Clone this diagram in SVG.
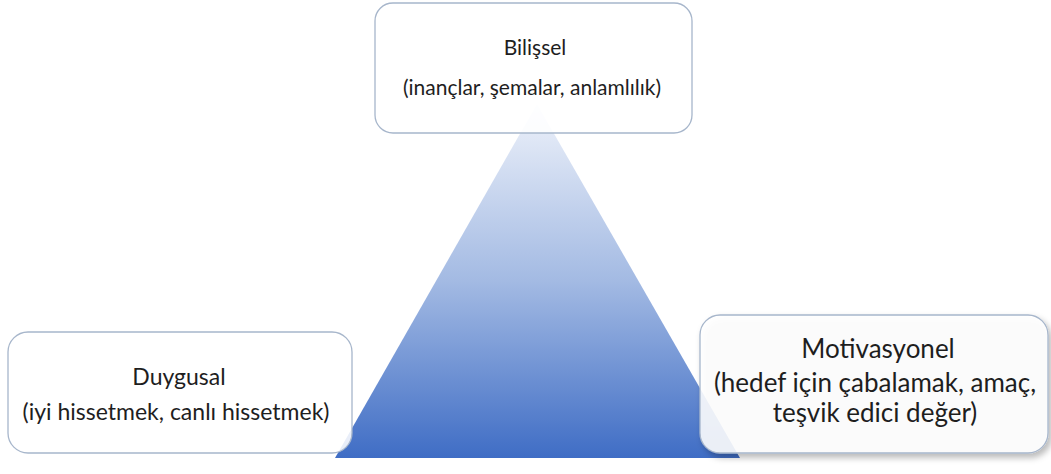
<svg xmlns="http://www.w3.org/2000/svg" width="1051" height="474" viewBox="0 0 1051 474">
<defs>
<linearGradient id="tri" x1="0" y1="0" x2="0" y2="1">
<stop offset="0" stop-color="#eef2fa"/>
<stop offset="0.5" stop-color="#a3bae3"/>
<stop offset="1" stop-color="#3f6dc5"/>
</linearGradient>
<filter id="sh" x="-10%" y="-10%" width="125%" height="130%">
<feDropShadow dx="3" dy="4" stdDeviation="3" flood-color="#000" flood-opacity="0.3"/>
</filter>
<style>
.box{fill:#ffffff;fill-opacity:0.88;stroke:#a7b6cb;stroke-width:1.3}
.t{font-family:Lato,"Liberation Sans",sans-serif;fill:#1e1e1e;text-anchor:middle}
.s1{font-size:21px}
.s2{font-size:23px}
.s3{font-size:26px}
</style>
</defs>
<rect width="1051" height="474" fill="#ffffff"/>
<polygon id="triangle" points="537,104 335,458 740,458" fill="url(#tri)"/>
<g id="bilissel">
<rect class="box" x="375" y="3" width="317" height="130" rx="18"/>
<text class="t s1" x="535" y="55">Bilişsel</text>
<text class="t s1" x="532" y="95">(inançlar, şemalar, anlamlılık)</text>
</g>
<g id="duygusal">
<rect class="box" x="8" y="332" width="344" height="121" rx="20"/>
<text class="t s2" x="179" y="385">Duygusal</text>
<text class="t s2" x="176" y="420">(iyi hissetmek, canlı hissetmek)</text>
</g>
<g id="motivasyonel">
<rect class="box" x="700" y="315" width="348" height="138" rx="20" filter="url(#sh)"/>
<text class="t s3" x="878" y="358">Motivasyonel</text>
<text class="t s3" x="875" y="392">(hedef için çabalamak, amaç,</text>
<text class="t s3" x="875" y="422">teşvik edici değer)</text>
</g>
<g id="connectors"/>
</svg>
